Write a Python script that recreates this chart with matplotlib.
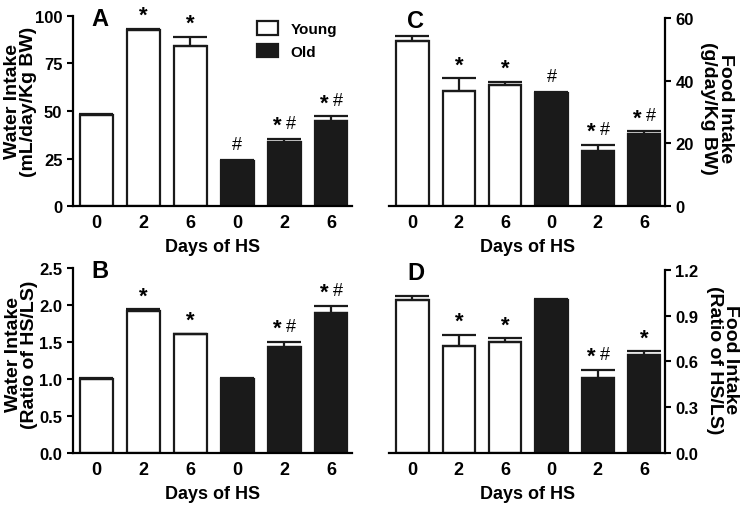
import numpy as np
import matplotlib
matplotlib.use("Agg")
import matplotlib.pyplot as plt
from matplotlib.patches import Patch
from matplotlib.ticker import FormatStrFormatter

plt.rcParams['font.family'] = ['Liberation Sans', 'DejaVu Sans']
plt.rcParams['font.weight'] = 'bold'

days = ["0", "2", "6", "0", "2", "6"]
groups = ["Young", "Young", "Young", "Old", "Old", "Old"]

water_abs = [48.0, 92.3, 84.3, 23.7, 33.8, 44.8]
water_abs_err = [0.5, 0.9, 4.7, 0.3, 1.6, 2.4]
water_ratio = [1.0, 1.92, 1.60, 1.0, 1.43, 1.89]
water_ratio_err = [0.01, 0.02, 0.01, 0.01, 0.07, 0.10]
food_abs = [52.7, 36.8, 38.5, 36.0, 17.6, 23.1]
food_abs_err = [1.5, 4.0, 1.1, 0.3, 1.9, 0.8]
food_ratio = [1.0, 0.70, 0.73, 1.0, 0.49, 0.64]
food_ratio_err = [0.03, 0.075, 0.02, 0.01, 0.055, 0.025]

marks_A = ["", "*", "*", "#", "*#", "*#"]
marks_B = ["", "*", "*", "", "*#", "*#"]
marks_C = ["", "*", "*", "#", "*#", "*#"]
marks_D = ["", "*", "*", "", "*#", "*"]

fig = plt.figure(figsize=(7.43, 5.10), dpi=100)
axA = fig.add_axes([0.098, 0.594, 0.376, 0.373])
axC = fig.add_axes([0.524, 0.594, 0.371, 0.369])
axB = fig.add_axes([0.098, 0.110, 0.376, 0.363])
axD = fig.add_axes([0.524, 0.110, 0.371, 0.359])

ink = '#1a1a1a'


def draw(ax, vals, errs, marks, ymax, ticks, ylabel, letter, side, label_xy):
    x = np.arange(len(vals))
    colors = ['white' if g == "Young" else ink for g in groups]
    ax.bar(x, vals, width=0.7, color=colors, edgecolor=ink, linewidth=1.6, zorder=2)
    ax.errorbar(x, vals, yerr=[np.zeros(len(vals)), errs], fmt='none', ecolor=ink,
                elinewidth=1.6, capsize=12, capthick=1.6, zorder=3)
    ax.set_xlim(-0.5, 5.45)
    ax.set_ylim(0, ymax)
    ax.set_yticks(ticks)
    ax.set_xticks(x)
    ax.set_xticklabels(days)
    ax.tick_params(axis='x', length=0, labelsize=13, pad=6)
    ax.tick_params(axis='y', length=4, width=1.5, labelsize=12, direction='out')
    for s in ['top', 'left', 'right']:
        ax.spines[s].set_visible(False)
    ax.spines['bottom'].set_linewidth(1.6)
    ax.spines[side].set_visible(True)
    ax.spines[side].set_linewidth(1.6)
    ax.set_xlabel("Days of HS", fontsize=13, fontweight='bold', labelpad=5)
    if side == 'right':
        ax.yaxis.tick_right()
        rot = 270
    else:
        rot = 90
    fig.text(label_xy[0], label_xy[1], ylabel, fontsize=14, fontweight='bold',
             rotation=rot, rotation_mode='anchor', ha='center', va='center',
             linespacing=0.95)
    ax.text(0.065, 0.985, letter, transform=ax.transAxes, fontsize=17,
            fontweight='bold', ha='left', va='center')
    for xi, v, e, m in zip(x, vals, errs, marks):
        top = v + e
        if m == "*":
            ax.annotate("*", (xi, top), xytext=(0, 2), textcoords='offset points',
                        ha='center', va='bottom', fontsize=16, fontweight='bold')
        elif m == "#":
            ax.annotate("#", (xi, top), xytext=(0, 5), textcoords='offset points',
                        ha='center', va='bottom', fontsize=13, fontweight='normal')
        elif m == "*#":
            ax.annotate("*", (xi, top), xytext=(-5, 2), textcoords='offset points',
                        ha='center', va='bottom', fontsize=16, fontweight='bold')
            ax.annotate("#", (xi, top), xytext=(5, 5), textcoords='offset points',
                        ha='center', va='bottom', fontsize=13, fontweight='normal')


draw(axA, water_abs, water_abs_err, marks_A, 100, [0, 25, 50, 75, 100],
     "Water Intake\n(mL/day/Kg BW)", "A", 'left', (0.028, 0.80))
draw(axB, water_ratio, water_ratio_err, marks_B, 2.5, [0.0, 0.5, 1.0, 1.5, 2.0, 2.5],
     "Water Intake\n(Ratio of HS/LS)", "B", 'left', (0.029, 0.304))
draw(axC, food_abs, food_abs_err, marks_C, 60, [0, 20, 40, 60],
     "Food Intake\n(g/day/Kg BW)", "C", 'right', (0.965, 0.788))
draw(axD, food_ratio, food_ratio_err, marks_D, 1.2, [0.0, 0.3, 0.6, 0.9, 1.2],
     "Food Intake\n(Ratio of HS/LS)", "D", 'right', (0.972, 0.294))
axB.yaxis.set_major_formatter(FormatStrFormatter('%.1f'))
axD.yaxis.set_major_formatter(FormatStrFormatter('%.1f'))

handles = [Patch(facecolor='white', edgecolor=ink, linewidth=1.6),
           Patch(facecolor=ink, edgecolor=ink, linewidth=1.6)]
axA.legend(handles, ["Young", "Old"], loc='upper left', bbox_to_anchor=(0.61, 1.045),
           frameon=False, fontsize=11, handlelength=1.4, handleheight=1.0,
           handletextpad=0.8, labelspacing=0.5)

fig.savefig("out.png", dpi=100)
